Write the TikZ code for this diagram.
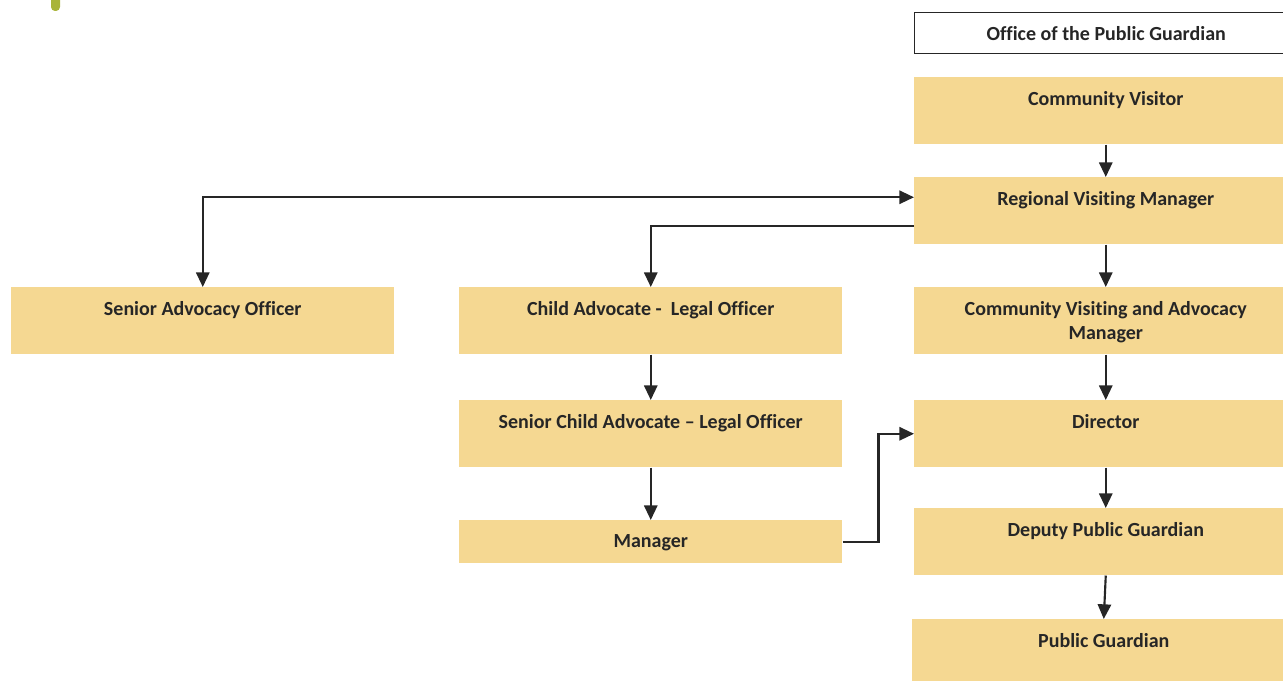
\documentclass[tikz,border=0pt]{standalone}
\usepackage{fontspec}
\setmainfont{Carlito}[Ligatures=NoCommon]
\usetikzlibrary{positioning, arrows.meta, calc}
\definecolor{boxfill}{HTML}{F5D892}
\definecolor{inktext}{HTML}{262626}
\definecolor{markgreen}{HTML}{A9B43A}

\begin{document}
\begin{tikzpicture}[x=0.75pt, y=-0.75pt,
        font=\fontsize{15}{18}\selectfont\bfseries,
        >={Triangle[length=11pt, width=10pt]},
        role/.style={fill=boxfill, text=inktext, anchor=north west, minimum width=287.25pt,
            inner xsep=0pt, inner ysep=0pt, align=center, text height=21.4pt, text depth=28.85pt},
        flatrole/.style={fill=boxfill, text=inktext, anchor=north west, minimum width=287.25pt,
            minimum height=32.25pt, inner sep=0pt, text height=9pt, text depth=1pt},
        link/.style={draw=inktext, line width=1.6pt, ->}
    ]
    \useasboundingbox (0,0) rectangle (1283,681);
    \clip (0,0) rectangle (1283,681);
    % Corner mark
    \fill[markgreen, rounded corners=3pt] (51,-8) rectangle (60,11);

    % Right column
    \node[draw=inktext, line width=1.1pt, fill=white, text=inktext, anchor=north west,
        minimum width=287.25pt, minimum height=30.75pt, inner sep=0pt] (opg) at (914,12) {Office of the Public Guardian};
    \node[role] (cv) at (914,77) {Community Visitor};
    \node[role] (rvm) at (914,177) {Regional Visiting Manager};
    \node[role, text height=39.4pt, text depth=10.85pt] (cvam) at (914,287) {Community Visiting and Advocacy\\Manager};
    \node[role] (dir) at (914,400) {Director};
    \node[role] (dpg) at (914,508) {Deputy Public Guardian};
    \node[role] (pg) at (912,619) {Public Guardian};

    % Left and middle columns
    \node[role] (sao) at (11,287) {Senior Advocacy Officer};
    \node[role] (ca) at (459,287) {Child Advocate -\ \ Legal Officer};
    \node[role] (sca) at (459,400) {Senior Child Advocate -- Legal Officer};
    \node[flatrole] (mgr) at (459,520) {Manager};

    % Down the right column
    \draw[link] (cv) -- (rvm);
    \draw[link] (rvm) -- (cvam);
    \draw[link] (cvam) -- (dir);
    \draw[link] (dir) -- (dpg);
    \draw[link] (dpg.south) -- (pg.north);

    % Cross links
    \draw[link, <->] (sao.north) |- ($(rvm.north west)!0.3!(rvm.south west)$);
    \draw[link] ($(rvm.north west)!0.73!(rvm.south west)$) -| (ca.north);
    \draw[link] (ca) -- (sca);
    \draw[link] (sca) -- (mgr);
    \draw[link] (mgr.east) -- ++(36,0) |- (dir.west);
\end{tikzpicture}
\end{document}
